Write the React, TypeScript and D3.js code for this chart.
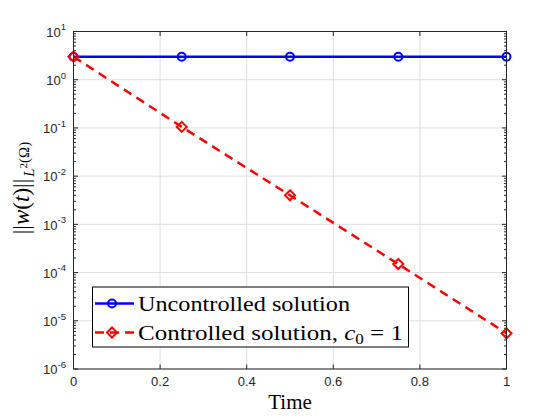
import React from 'react'
import * as d3 from 'd3'

const times = [0, 0.25, 0.5, 0.75, 1]
const uncontrolled = [3, 3, 3, 3, 3]
const controlled = [3, 0.105, 0.004, 0.00015, 0.0000055]
const xTicks = [0, 0.2, 0.4, 0.6, 0.8, 1]
const yExponents = [-6, -5, -4, -3, -2, -1, 0, 1]

const W = 560
const H = 420
const left = 73.5
const right = 506.5
const top = 31.5
const bottom = 369

export default function App() {
  const x = d3.scaleLinear().domain([0, 1]).range([left, right])
  const y = d3.scaleLog().domain([1e-6, 10]).range([bottom, top])

  const line = d3.line<number>()
    .x((_, i) => x(times[i]))
    .y(d => y(d))

  const minor: number[] = []
  yExponents.slice(0, -1).forEach(e => {
    for (let k = 2; k <= 9; k++) minor.push(k * Math.pow(10, e))
  })

  const tickFont = "'Liberation Sans', Arial, sans-serif"
  const serif = "'Liberation Serif', 'Times New Roman', serif"
  const gridColor = '#dfdfdf'
  const axisColor = '#262626'

  const diamond = (cx: number, cy: number, r: number) =>
    `M${cx},${cy - r}L${cx + r},${cy}L${cx},${cy + r}L${cx - r},${cy}Z`

  return (
    <svg width={W} height={H} style={{ position: 'absolute', left: 0, top: 0, background: '#fff' }}>
      <rect x={0} y={0} width={W} height={H} fill="#fff" />
      {/* grid */}
      {xTicks.map(t => (
        <line key={'gx' + t} x1={x(t)} x2={x(t)} y1={top} y2={bottom} stroke={gridColor} strokeWidth={1} />
      ))}
      {yExponents.map(e => (
        <line key={'gy' + e} x1={left} x2={right} y1={y(Math.pow(10, e))} y2={y(Math.pow(10, e))} stroke={gridColor} strokeWidth={1} />
      ))}

      {/* ticks */}
      {xTicks.map(t => (
        <g key={'tx' + t} stroke={axisColor} strokeWidth={1}>
          <line x1={x(t)} x2={x(t)} y1={bottom} y2={bottom - 4.5} />
          <line x1={x(t)} x2={x(t)} y1={top} y2={top + 4.5} />
        </g>
      ))}
      {yExponents.map(e => (
        <g key={'ty' + e} stroke={axisColor} strokeWidth={1}>
          <line x1={left} x2={left + 4.5} y1={y(Math.pow(10, e))} y2={y(Math.pow(10, e))} />
          <line x1={right} x2={right - 4.5} y1={y(Math.pow(10, e))} y2={y(Math.pow(10, e))} />
        </g>
      ))}
      {minor.map((v, i) => (
        <g key={'my' + i} stroke={axisColor} strokeWidth={1}>
          <line x1={left} x2={left + 2.5} y1={y(v)} y2={y(v)} />
          <line x1={right} x2={right - 2.5} y1={y(v)} y2={y(v)} />
        </g>
      ))}

      {/* data */}
      <path d={line(uncontrolled) || ''} fill="none" stroke="#0000ff" strokeWidth={2.5} />
      {uncontrolled.map((v, i) => (
        <circle key={'u' + i} cx={x(times[i])} cy={y(v)} r={4} fill="none" stroke="#0000ff" strokeWidth={2} />
      ))}
      <path d={line(controlled) || ''} fill="none" stroke="#ff0000" strokeWidth={2.5} strokeDasharray="9,6" />
      {controlled.map((v, i) => (
        <path key={'c' + i} d={diamond(x(times[i]), y(v), 5)} fill="none" stroke="#ff0000" strokeWidth={2} />
      ))}

      {/* axes box */}
      <rect x={left} y={top} width={right - left} height={bottom - top} fill="none" stroke={axisColor} strokeWidth={1} />

      {/* tick labels */}
      {xTicks.map(t => (
        <text key={'lx' + t} x={x(t)} y={bottom + 17} textAnchor="middle" fontFamily={tickFont} fontSize={13} fill={axisColor}>
          {d3.format('~g')(t)}
        </text>
      ))}
      {yExponents.map(e => (
        <text key={'ly' + e} x={66} y={y(Math.pow(10, e)) + 5.3} textAnchor="end" fontFamily={tickFont} fontSize={13} fill={axisColor}>
          10<tspan dy={-6.5} fontSize={9.5}>{e}</tspan>
        </text>
      ))}

      {/* axis labels */}
      <text x={(left + right) / 2} y={409} textAnchor="middle" fontFamily={serif} fontSize={21} fill="#000">Time</text>
      <text transform="translate(29,188) rotate(-90)" textAnchor="middle" fontFamily={serif} fontSize={23} fill="#000">
        <tspan>||</tspan><tspan fontStyle="italic">w</tspan><tspan>(</tspan><tspan fontStyle="italic">t</tspan><tspan>)||</tspan>
        <tspan dx={2} dy={5} fontSize={15} fontStyle="italic">L</tspan><tspan dy={-7} fontSize={11}>2</tspan><tspan dy={2} fontSize={15}>(Ω)</tspan>
      </text>

      {/* legend */}
      <g>
        <rect x={92.5} y={287} width={316} height={60} fill="#fff" stroke="#000" strokeWidth={1} />
        <line x1={95} x2={134} y1={303.5} y2={303.5} stroke="#0000ff" strokeWidth={2.5} />
        <circle cx={112} cy={303.5} r={4} fill="none" stroke="#0000ff" strokeWidth={2} />
        <text x={138} y={311} fontFamily={serif} fontSize={22} fill="#000" textLength={212} lengthAdjust="spacingAndGlyphs">Uncontrolled solution</text>
        <line x1={95} x2={134} y1={332.5} y2={332.5} stroke="#ff0000" strokeWidth={2.5} strokeDasharray="9,6" />
        <path d={diamond(112, 332.5, 5)} fill="none" stroke="#ff0000" strokeWidth={2} />
        <text x={138} y={340} fontFamily={serif} fontSize={22} fill="#000" textLength={265} lengthAdjust="spacingAndGlyphs">
          Controlled solution, <tspan fontStyle="italic">c</tspan><tspan dy={4} fontSize={15}>0</tspan><tspan dy={-4}> = 1</tspan>
        </text>
      </g>
    </svg>
  )
}
